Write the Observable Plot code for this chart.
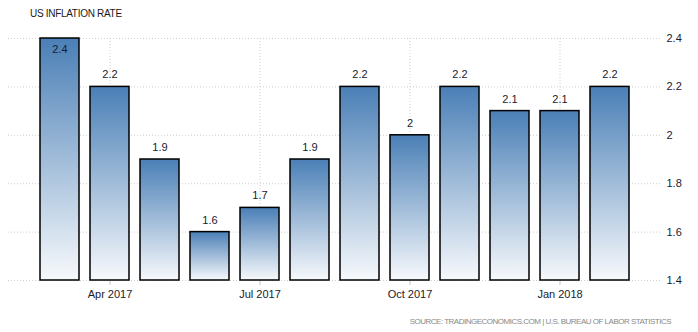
<!DOCTYPE html>
<html>
<head>
<meta charset="utf-8">
<script src="https://cdn.jsdelivr.net/npm/d3@7"></script>
<script src="https://cdn.jsdelivr.net/npm/@observablehq/plot@0.6"></script>
<style>
  html, body { margin: 0; padding: 0; background: #fff; }
  #wrap { position: relative; width: 698px; height: 332px; overflow: hidden; font-family: "Liberation Sans", Arial, sans-serif; }
  #chart { position: absolute; left: 0; top: 0; }
  #title { position: absolute; left: 30px; top: 8px; font-size: 10px; color: #1a1a1a; letter-spacing: -0.3px; white-space: nowrap; }
  #source { position: absolute; right: 27px; top: 317px; font-size: 8px; color: #888; letter-spacing: -0.5px; white-space: nowrap; }
</style>
</head>
<body>
<div id="wrap">
  <div id="chart"></div>
  <div id="title">US INFLATION RATE</div>
  <div id="source">SOURCE: TRADINGECONOMICS.COM | U.S. BUREAU OF LABOR STATISTICS</div>
</div>
<script>
const months = ["Mar 2017","Apr 2017","May 2017","Jun 2017","Jul 2017","Aug 2017","Sep 2017","Oct 2017","Nov 2017","Dec 2017","Jan 2018","Feb 2018"];
const values = [2.4, 2.2, 1.9, 1.6, 1.7, 1.9, 2.2, 2.0, 2.2, 2.1, 2.1, 2.2];
const xTickLabels = ["Apr 2017","Jul 2017","Oct 2017","Jan 2018"];
const yTicks = [1.4, 1.6, 1.8, 2, 2.2, 2.4];

const data = months.map((m, i) => ({month: m, value: values[i]}));
const maxV = d3.max(values);

const chart = Plot.plot({
  width: 698,
  height: 332,
  marginTop: 38,
  marginBottom: 52,
  marginLeft: 8,
  marginRight: 36,
  style: {fontFamily: "'Liberation Sans', Arial, sans-serif", fontSize: "11px", background: "#fff"},
  x: {domain: months, range: [33, 636], paddingInner: 0.22, paddingOuter: 0.1, axis: null, label: null},
  y: {domain: [1.4, 2.4], axis: null, label: null},
  marks: [
    Plot.ruleY(yTicks, {stroke: "#cfcfcf", strokeDasharray: "1,2", strokeWidth: 1}),
    Plot.ruleX(xTickLabels, {stroke: "#cfcfcf", strokeDasharray: "1,2", strokeWidth: 1}),
    Plot.axisX(xTickLabels, {tickSize: 5, tickPadding: 5, stroke: "#c4c4c4", fill: "#1a1a2e", fontSize: 11, label: null}),
    Plot.barY(data, {x: "month", y1: 1.4, y2: "value", fill: "url(#barGrad)", stroke: "#000", strokeWidth: 1.5}),
    Plot.text(data.filter(d => d.value !== maxV), {x: "month", y: "value", text: d => String(d.value), dy: -12, fill: "#1a1a2e", fontSize: 11}),
    Plot.text(data.filter(d => d.value === maxV), {x: "month", y: "value", text: d => String(d.value), dy: 11, fill: "#1a1a2e", fontSize: 11}),
    Plot.axisY(yTicks, {anchor: "right", tickSize: 0, tickPadding: 4, textAnchor: "start", fill: "#1a1a2e", fontSize: 11, tickFormat: d => String(d), label: null})
  ]
});

const ns = "http://www.w3.org/2000/svg";
const defs = document.createElementNS(ns, "defs");
const grad = document.createElementNS(ns, "linearGradient");
grad.setAttribute("id", "barGrad");
grad.setAttribute("x1", "0"); grad.setAttribute("y1", "0");
grad.setAttribute("x2", "0"); grad.setAttribute("y2", "1");
[["0%", "#4a7fb6"], ["100%", "#f7f9fc"]].forEach(([o, c]) => {
  const s = document.createElementNS(ns, "stop");
  s.setAttribute("offset", o);
  s.setAttribute("stop-color", c);
  grad.appendChild(s);
});
defs.appendChild(grad);
chart.insertBefore(defs, chart.firstChild);
document.getElementById("chart").appendChild(chart);
</script>
</body>
</html>
